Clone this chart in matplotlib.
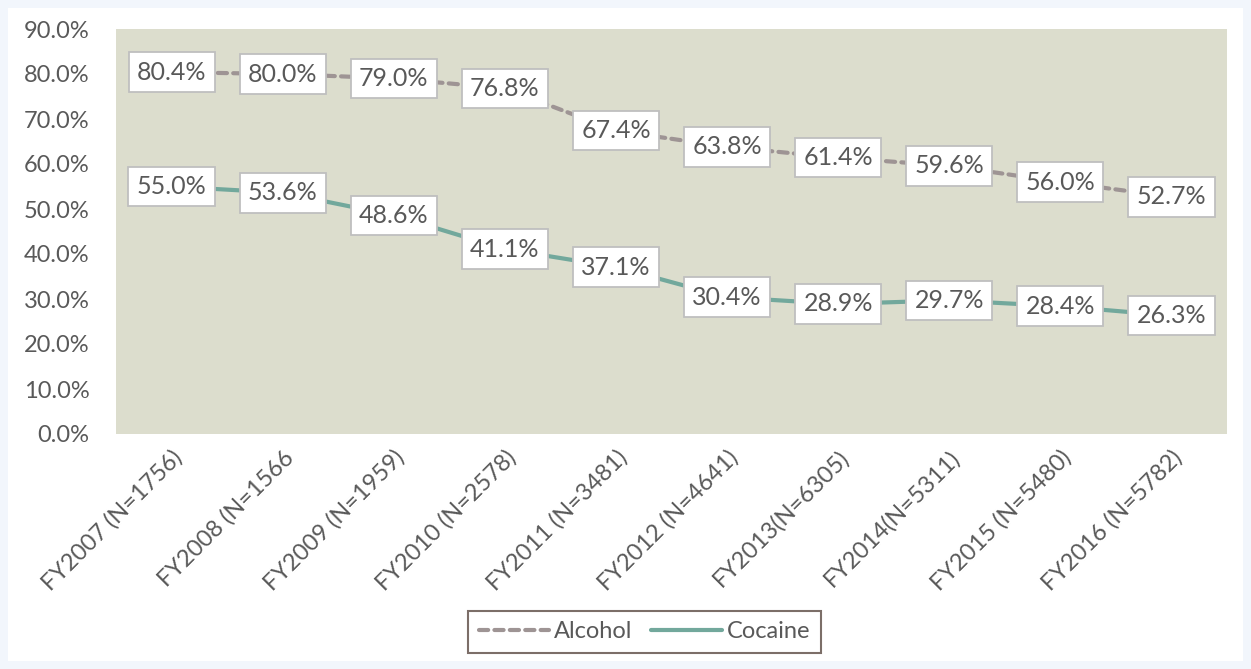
import matplotlib
matplotlib.use("Agg")
import matplotlib.pyplot as plt
from matplotlib.patches import Rectangle
from matplotlib.ticker import FuncFormatter

categories = ["FY2007 (N=1756)", "FY2008 (N=1566", "FY2009 (N=1959)", "FY2010 (N=2578)",
              "FY2011 (N=3481)", "FY2012 (N=4641)", "FY2013(N=6305)", "FY2014(N=5311)",
              "FY2015 (N=5480)", "FY2016 (N=5782)"]
alcohol = [80.4, 80.0, 79.0, 76.8, 67.4, 63.8, 61.4, 59.6, 56.0, 52.7]
cocaine = [55.0, 53.6, 48.6, 41.1, 37.1, 30.4, 28.9, 29.7, 28.4, 26.3]

plt.rcParams['font.family'] = ['Lato', 'DejaVu Sans']
W, H = 1251, 669
fig = plt.figure(figsize=(W / 100, H / 100), dpi=100)
fig.patch.set_facecolor('#F2F6FC')
fig.patches.append(Rectangle((8 / W, 8 / H), (W - 16) / W, (H - 16) / H,
                             transform=fig.transFigure, facecolor='white',
                             edgecolor='none', zorder=-10))

ax = fig.add_axes([116 / W, 1 - 434 / H, (1227 - 116) / W, (434 - 29) / H])
ax.set_facecolor('#DCDDCD')
for s in ax.spines.values():
    s.set_visible(False)

x = list(range(len(categories)))
text_color = '#595959'
l1, = ax.plot(x, alcohol, color='#9E9494', lw=3, linestyle=(0, (2.2, 1.5)), label='Alcohol',
              solid_capstyle='round', dash_capstyle='round')
l2, = ax.plot(x, cocaine, color='#72A89C', lw=3, label='Cocaine', solid_capstyle='round')

for series in (alcohol, cocaine):
    for xi, v in zip(x, series):
        ax.text(xi, v, f"{v:.1f}%", ha='center', va='center', fontsize=18, color=text_color,
                bbox=dict(boxstyle='square,pad=0.33', facecolor='white',
                          edgecolor='#BFBFBF', lw=1.3))

ax.set_xlim(-0.5, len(categories) - 0.5)
ax.set_ylim(0, 90)
ax.set_yticks(range(0, 91, 10))
ax.yaxis.set_major_formatter(FuncFormatter(lambda v, p: f"{v:.1f}%"))
ax.set_xticks(x)
ax.set_xticklabels(categories, rotation=45, ha='right', rotation_mode='anchor')
ax.tick_params(axis='both', length=0, labelsize=17, colors=text_color)
ax.tick_params(axis='y', pad=19)
ax.tick_params(axis='x', pad=9)

leg = fig.legend(handles=[l1, l2], loc='center', bbox_to_anchor=(644.5 / W, 1 - 632 / H),
                 ncol=2, frameon=True, fontsize=17, handlelength=3.0, columnspacing=0.8,
                 handletextpad=0.2, fancybox=False, borderpad=0.45, labelcolor=text_color)
leg.get_frame().set_edgecolor('#5B4A42')
leg.get_frame().set_linewidth(1.5)

fig.savefig('out.png', dpi=100, facecolor=fig.get_facecolor())
